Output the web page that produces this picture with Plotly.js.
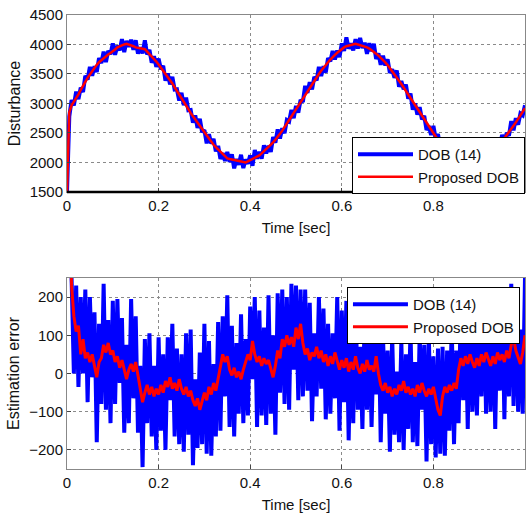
<!DOCTYPE html>
<html>
<head>
<meta charset="utf-8">
<script src="https://cdn.plot.ly/plotly-3.0.1.min.js"></script>
<style>html,body{margin:0;padding:0;background:#fff;}#chart{width:527px;height:520px;}</style>
</head>
<body>
<div id="chart"></div>
<script>
// Sampling: all series start at t = 0 s, step 0.005 s (201 samples)
var T0 = 0, DT = 0.005;
var xTickVals = [0, 0.2, 0.4, 0.6, 0.8, 1];
var xTickText = ["0", "0.2", "0.4", "0.6", "0.8", "1"];
var topYTicks = [1500, 2000, 2500, 3000, 3500, 4000, 4500];
var botYTicks = [-200, -100, 0, 100, 200];
var seriesNames = ["DOB (14)", "Proposed DOB"];

var disturbanceDOB = [
1500,2780,3060,2965,3200,3075,3270,3195,3470,3405,
3620,3470,3630,3535,3770,3685,3880,3700,3890,3835,
4020,3825,3980,3900,4090,3870,4060,3960,4080,3910,
4070,3845,3950,3850,4070,3830,3910,3690,3800,3620,
3760,3580,3640,3385,3510,3325,3450,3235,3240,3050,
3180,2970,3100,2885,2890,2675,2800,2585,2740,2515,
2550,2325,2480,2320,2400,2190,2280,2060,2160,2025,
2180,2010,2140,1900,2060,1960,2130,1905,2050,1980,
2120,1945,2210,2065,2180,2065,2290,2155,2280,2180,
2430,2335,2560,2405,2580,2495,2720,2695,2890,2750,
2960,2845,3060,3025,3300,3180,3360,3240,3450,3390,
3620,3465,3630,3525,3770,3715,3890,3745,3900,3785,
4020,3890,4120,3930,4020,3900,4090,3930,4110,3940,
4030,3840,4020,3885,4010,3755,3850,3655,3810,3645,
3750,3520,3580,3435,3560,3285,3380,3240,3320,3080,
3170,2895,3000,2810,2940,2730,2790,2550,2620,2465,
2620,2400,2480,2240,2350,2180,2320,2145,2190,1990,
2160,2000,2180,1935,2040,1955,2100,1895,2080,1980,
2120,1950,2120,2025,2240,2125,2250,2100,2350,2265,
2470,2320,2500,2455,2700,2545,2750,2640,2830,2800,
2970];

var disturbanceProposed = [
1500,2850,2970,3025,3080,3155,3230,3305,3380,3435,
3490,3550,3610,3655,3700,3735,3770,3800,3830,3855,
3880,3915,3950,3970,3990,4000,4010,4000,3990,3970,
3950,3945,3940,3930,3920,3880,3840,3800,3760,3710,
3660,3610,3560,3505,3450,3395,3340,3275,3210,3150,
3090,3030,2970,2905,2840,2785,2730,2675,2620,2565,
2510,2455,2400,2350,2300,2260,2220,2180,2140,2105,
2070,2060,2050,2040,2030,2020,2010,2005,2000,2020,
2040,2055,2070,2095,2120,2155,2190,2225,2260,2300,
2340,2385,2430,2485,2540,2595,2650,2715,2780,2840,
2900,2965,3030,3095,3160,3220,3280,3340,3400,3450,
3500,3555,3610,3655,3700,3745,3790,3825,3860,3895,
3930,3950,3970,3980,3990,4000,4010,4000,3990,3980,
3970,3950,3930,3905,3880,3845,3810,3775,3740,3695,
3650,3600,3550,3495,3440,3385,3330,3270,3210,3150,
3090,3025,2960,2900,2840,2780,2720,2660,2600,2545,
2490,2440,2390,2340,2290,2250,2210,2175,2140,2110,
2080,2060,2040,2025,2010,2005,2000,2005,2010,2020,
2030,2050,2070,2095,2120,2155,2190,2230,2270,2315,
2360,2410,2460,2515,2570,2625,2680,2740,2800,2860,
2920];

var errorDOB = [
1400,320,250,0,230,-35,200,0,220,-75,
200,-10,160,-180,130,-80,235,-95,140,-130,
190,-80,195,-25,145,-155,75,-130,195,-65,
150,-155,20,-245,90,-130,105,-165,20,-200,
95,-150,50,-200,95,-70,130,-165,65,-185,
50,-205,105,-160,115,-240,-15,-195,55,-185,
130,-210,85,-215,25,-165,135,-150,150,-60,
205,-140,125,-165,80,-105,155,-130,90,-110,
175,-15,200,-140,165,-110,120,-135,205,-105,
100,-160,210,-50,220,-80,200,-95,235,10,
230,-70,220,-60,220,-45,185,-125,105,-60,
200,-40,170,-120,130,-105,105,-65,200,-150,
165,-75,190,-175,130,-130,205,-95,70,-145,
155,-95,130,-140,95,-55,170,-180,95,-105,
60,-205,100,-160,5,-180,85,-200,50,-145,
115,-180,30,-190,100,-95,75,-230,100,-185,
45,-220,65,-210,70,-215,60,-150,125,-185,
60,-130,190,-70,165,-145,210,-100,85,-110,
160,-60,210,-105,125,-100,195,-145,165,-45,
220,-120,190,-60,235,-85,180,-100,115,-105,
250];

var errorProposed = [
1400,420,230,150,110,125,50,90,40,55,
30,50,20,-10,30,40,75,55,80,50,
60,30,45,15,35,5,-15,10,25,5,
30,-5,-40,-75,-50,-30,-55,-35,-60,-40,
-55,-30,-50,-20,-35,-10,-40,-25,-45,-15,
-40,-55,-35,-60,-45,-70,-85,-65,-95,-75,
-50,-70,-35,-55,-25,-45,-15,20,50,30,
45,10,-5,15,-10,5,-15,10,30,50,
35,85,50,30,45,20,40,25,35,15,
-10,20,60,40,90,70,100,75,95,70,
120,90,130,80,50,65,35,55,45,70,
40,60,30,50,20,45,25,55,30,10,
35,15,40,5,30,10,45,15,0,25,
5,35,10,20,5,45,0,-30,-45,-25,
-50,-35,-60,-40,-55,-30,-45,-20,-50,-35,
-55,-40,-60,-30,-50,-25,-45,-60,-40,-55,
-35,-70,-95,-110,-60,-35,-50,-30,-45,-25,
-40,10,40,20,45,25,50,30,15,40,
20,50,30,55,35,20,45,25,55,35,
50,30,60,40,75,95,60,40,25,55,
100];

var BLUE = "#0000ff", RED = "#ff0000";
var FONT = "Liberation Sans, Arial, sans-serif";

var traces = [
  {x0: T0, dx: DT, y: disturbanceDOB, type: "scatter", mode: "lines", name: seriesNames[0],
   line: {color: BLUE, width: 4}, xaxis: "x", yaxis: "y", legend: "legend"},
  {x0: T0, dx: DT, y: disturbanceProposed, type: "scatter", mode: "lines", name: seriesNames[1],
   line: {color: RED, width: 2.5}, xaxis: "x", yaxis: "y", legend: "legend"},
  {x0: T0, dx: DT, y: errorDOB, type: "scatter", mode: "lines", name: seriesNames[0],
   line: {color: BLUE, width: 4}, xaxis: "x2", yaxis: "y2", legend: "legend2"},
  {x0: T0, dx: DT, y: errorProposed, type: "scatter", mode: "lines", name: seriesNames[1],
   line: {color: RED, width: 3}, xaxis: "x2", yaxis: "y2", legend: "legend2"}
];

function xAxis(anchor) {
  return {
    domain: [0, 1], anchor: anchor, range: [0, 1],
    tickmode: "array", tickvals: xTickVals, ticktext: xTickText,
    ticks: "inside", ticklen: 4, tickcolor: "#444",
    showgrid: true, gridcolor: "#8a8a8a", griddash: "dot", gridwidth: 1,
    zeroline: false, showline: true, linecolor: "#888", linewidth: 1, mirror: true,
    tickfont: {family: FONT, size: 15, color: "#111"},
    title: {text: "Time [sec]", font: {family: FONT, size: 15, color: "#111"}, standoff: 9},
    automargin: false, fixedrange: true
  };
}
function yAxis(anchor, domain, range, ticks, title) {
  return {
    domain: domain, anchor: anchor, range: range,
    tickmode: "array", tickvals: ticks,
    ticks: "inside", ticklen: 4, tickcolor: "#444",
    showgrid: true, gridcolor: "#8a8a8a", griddash: "dot", gridwidth: 1,
    zeroline: false, showline: true, linecolor: "#888", linewidth: 1, mirror: true,
    tickfont: {family: FONT, size: 15, color: "#111"},
    title: {text: title, font: {family: FONT, size: 16, color: "#111"}, standoff: 5},
    automargin: false, fixedrange: true
  };
}

var layout = {
  width: 527, height: 520,
  margin: {l: 67, r: 2, t: 0, b: 0},
  paper_bgcolor: "#fff", plot_bgcolor: "#fff",
  showlegend: true,
  xaxis: xAxis("y"),
  yaxis: yAxis("x", [0.6308, 0.9712], [1500, 4500], topYTicks, "Disturbance"),
  xaxis2: xAxis("y2"),
  yaxis2: yAxis("x2", [0.0981, 0.4654], [-250, 250], botYTicks, "Estimation error"),
  legend: {x: 1, xanchor: "right", y: 0.7365, yanchor: "top",
           bgcolor: "#fff", bordercolor: "#000", borderwidth: 1, itemwidth: 55,
           font: {family: FONT, size: 15, color: "#111"}, tracegroupgap: 0},
  legend2: {x: 0.989, xanchor: "right", y: 0.448, yanchor: "top",
           bgcolor: "#fff", bordercolor: "#000", borderwidth: 1, itemwidth: 55,
           font: {family: FONT, size: 15, color: "#111"}, tracegroupgap: 0},
  shapes: [
    {type: "line", xref: "x domain", yref: "y domain", x0: 0, x1: 1, y0: 0, y1: 0,
     line: {color: "#000", width: 2.5}, layer: "above"}
  ]
};

Plotly.newPlot("chart", traces, layout, {staticPlot: true, displayModeBar: false});
</script>
</body>
</html>
